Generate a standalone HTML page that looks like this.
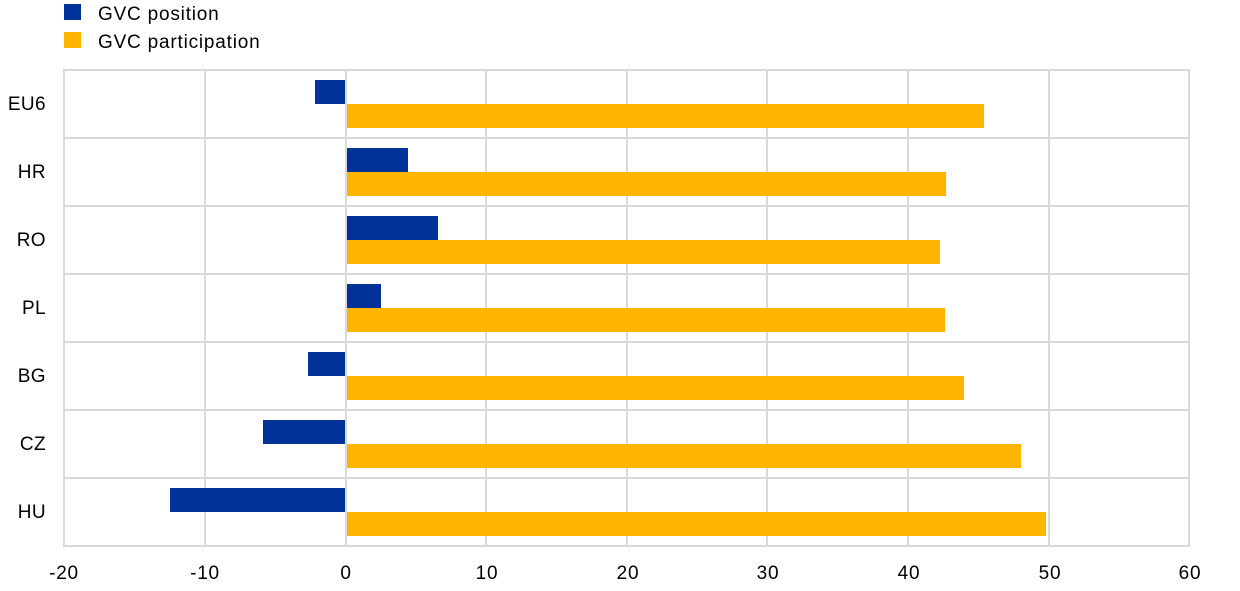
<!DOCTYPE html>
<html><head><style>
body{margin:0;background:#fff;}
svg{display:block;font-family:"Liberation Sans",Arial,sans-serif;}
</style></head><body>
<svg width="1240" height="591" viewBox="0 0 1240 591">
<rect x="64" y="4" width="17" height="16" fill="#003299"/>
<text x="98" y="20" font-size="19" letter-spacing="0.8" fill="#000">GVC position</text>
<rect x="64" y="32" width="17" height="16" fill="#FFB400"/>
<text x="98" y="48" font-size="19" letter-spacing="0.8" fill="#000">GVC participation</text>
<g stroke="#d9d9d9" stroke-width="2" fill="none">
<rect x="64" y="70" width="1125" height="476"/>
<line x1="205" y1="70" x2="205" y2="546"/>
<line x1="486" y1="70" x2="486" y2="546"/>
<line x1="627" y1="70" x2="627" y2="546"/>
<line x1="767" y1="70" x2="767" y2="546"/>
<line x1="908" y1="70" x2="908" y2="546"/>
<line x1="1049" y1="70" x2="1049" y2="546"/>
<line x1="64" y1="138" x2="1189" y2="138"/>
<line x1="64" y1="206" x2="1189" y2="206"/>
<line x1="64" y1="274" x2="1189" y2="274"/>
<line x1="64" y1="342" x2="1189" y2="342"/>
<line x1="64" y1="410" x2="1189" y2="410"/>
<line x1="64" y1="478" x2="1189" y2="478"/>
</g>
<g fill="#003299">
<rect x="315" y="80" width="31" height="24"/>
<rect x="346" y="148" width="62" height="24"/>
<rect x="346" y="216" width="92" height="24"/>
<rect x="346" y="284" width="35" height="24"/>
<rect x="308" y="352" width="38" height="24"/>
<rect x="263" y="420" width="83" height="24"/>
<rect x="170" y="488" width="176" height="24"/>
</g>
<g fill="#FFB400">
<rect x="346" y="104" width="638" height="24"/>
<rect x="346" y="172" width="600" height="24"/>
<rect x="346" y="240" width="594" height="24"/>
<rect x="346" y="308" width="599" height="24"/>
<rect x="346" y="376" width="618" height="24"/>
<rect x="346" y="444" width="675" height="24"/>
<rect x="346" y="512" width="700" height="24"/>
</g>
<line x1="346" y1="70" x2="346" y2="546" stroke="#d9d9d9" stroke-width="2"/>
<g font-size="19" letter-spacing="0.4" fill="#000" text-anchor="end">
<text x="46" y="110">EU6</text>
<text x="46" y="178">HR</text>
<text x="46" y="246">RO</text>
<text x="46" y="314">PL</text>
<text x="46" y="382">BG</text>
<text x="46" y="450">CZ</text>
<text x="46" y="518">HU</text>
</g>
<g font-size="19" letter-spacing="0.8" fill="#000" text-anchor="middle">
<text x="64" y="579">-20</text>
<text x="205" y="579">-10</text>
<text x="346" y="579">0</text>
<text x="487" y="579">10</text>
<text x="628" y="579">20</text>
<text x="768" y="579">30</text>
<text x="909" y="579">40</text>
<text x="1050" y="579">50</text>
<text x="1190" y="579">60</text>
</g>
</svg>
</body></html>
